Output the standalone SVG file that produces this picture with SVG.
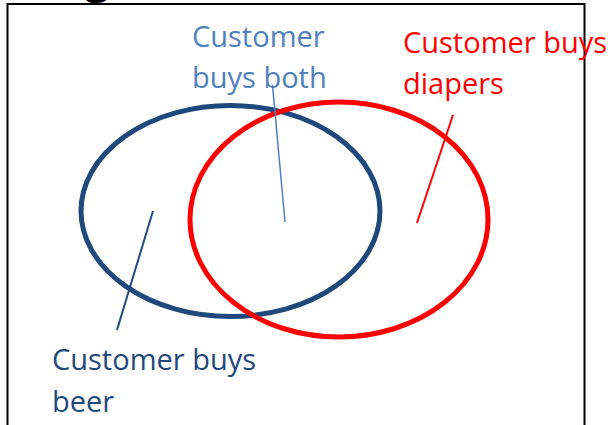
<svg xmlns="http://www.w3.org/2000/svg" width="614" height="425" viewBox="0 0 614 425">
  <style>
    .lbl { font-family: "Open Sans", "Noto Sans", "DejaVu Sans", sans-serif; font-size: 29px; }
    .both { fill: #4F81BD; }
    .diap { fill: #FF0000; }
    .beer { fill: #1F497D; }
    .set { fill: none; stroke-width: 5; }
    .lead { fill: none; }
  </style>
  <rect width="614" height="425" fill="#ffffff"/>

  <!-- heading descender peeking above the frame -->
  <text x="84" y="-8" font-family="'Open Sans', 'Noto Sans', sans-serif" font-size="48" fill="#000000">g</text>

  <!-- slide frame -->
  <path d="M7.5,430 V4 H584.5 V430" fill="none" stroke="#000000" stroke-width="2"/>

  <g id="beer">
    <ellipse class="set" cx="230.5" cy="211" rx="149.5" ry="105.5" stroke="#1F497D"/>
  </g>
  <g id="diapers">
    <ellipse class="set" cx="339" cy="219.5" rx="149" ry="117.5" stroke="#FF0000"/>
  </g>

  <g id="connectors">
    <line class="lead" x1="272.5" y1="85" x2="285" y2="222" stroke="#4F81BD" stroke-width="1.5"/>
    <line class="lead" x1="453" y1="115" x2="417" y2="223" stroke="#FF0000" stroke-width="2"/>
    <line class="lead" x1="153" y1="211" x2="117" y2="330" stroke="#1F497D" stroke-width="2"/>
  </g>

  <g id="label-both">
    <text class="lbl both" x="192" y="47">Customer</text>
    <text class="lbl both" x="192" y="88">buys both</text>
  </g>
  <g id="label-diapers">
    <text class="lbl diap" x="403" y="53">Customer buys</text>
    <text class="lbl diap" x="403" y="94">diapers</text>
  </g>
  <g id="label-beer">
    <text class="lbl beer" x="52" y="370">Customer buys</text>
    <text class="lbl beer" x="52" y="412">beer</text>
  </g>
</svg>
